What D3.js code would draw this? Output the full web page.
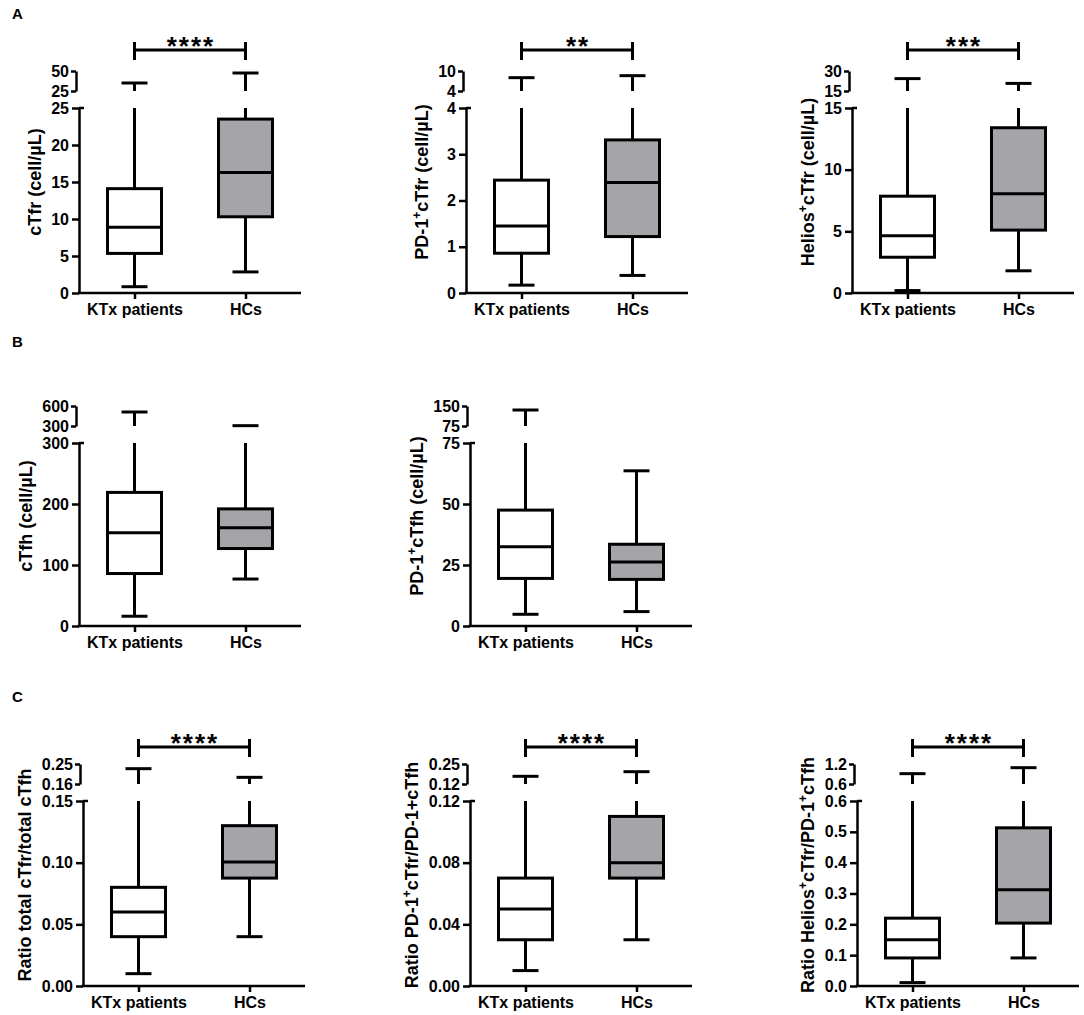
<!DOCTYPE html>
<html>
<head>
<meta charset="utf-8">
<script src="https://cdn.jsdelivr.net/npm/d3@7"></script>
<style>
  body { margin: 0; background: #fff; }
  svg { font-family: "Liberation Sans", Arial, sans-serif; font-weight: bold; }
  .axis path, .axis line { stroke: #000; stroke-width: 2.5; }
  .axis text { font-size: 16px; font-weight: bold; fill: #000; font-family: "Liberation Sans", Arial, sans-serif; }
  .y-title { font-size: 18px; font-weight: bold; }
</style>
</head>
<body>
<div id="chart"></div>
<script>
const groups = ['KTx patients', 'HCs'];

// box stats per group: [min, q1, median, q3, max]
const cTfrKTx = [0.85, 5.35, 8.9, 14.1, 35];
const cTfrHC = [2.85, 10.3, 16.3, 23.5, 47.5];
const pdCTfrKTx = [0.17, 0.86, 1.45, 2.44, 8.0];
const pdCTfrHC = [0.38, 1.22, 2.39, 3.31, 8.6];
const heliosCTfrKTx = [0.2, 2.9, 4.65, 7.85, 24.3];
const heliosCTfrHC = [1.8, 5.1, 8.05, 13.4, 20.7];
const cTfhKTx = [16, 86, 153, 219, 510];
const cTfhHC = [77, 127, 161, 192, 305];
const pdCTfhKTx = [4.8, 19.5, 32.5, 47.5, 135];
const pdCTfhHC = [5.9, 19.1, 26.2, 33.5, 63.6];
const ratioTotalKTx = [0.01, 0.04, 0.06, 0.08, 0.229];
const ratioTotalHC = [0.04, 0.0875, 0.1005, 0.13, 0.19];
const ratioPdKTx = [0.01, 0.03, 0.05, 0.07, 0.17];
const ratioPdHC = [0.03, 0.07, 0.08, 0.11, 0.2];
const ratioHeliosKTx = [0.011, 0.091, 0.15, 0.22, 0.91];
const ratioHeliosHC = [0.091, 0.204, 0.312, 0.513, 1.09];

// tick labels: lower segment and upper (broken) segment of each y axis
const cTfrLowTicks = [0, 5, 10, 15, 20, 25];
const cTfrHighTicks = [25, 50];
const pdCTfrLowTicks = [0, 1, 2, 3, 4];
const pdCTfrHighTicks = [4, 10];
const heliosCTfrLowTicks = [0, 5, 10, 15];
const heliosCTfrHighTicks = [15, 30];
const cTfhLowTicks = [0, 100, 200, 300];
const cTfhHighTicks = [300, 600];
const pdCTfhLowTicks = [0, 25, 50, 75];
const pdCTfhHighTicks = [75, 150];
const ratioTotalLowTicks = [0, 0.05, 0.10, 0.15];
const ratioTotalHighTicks = [0.16, 0.25];
const ratioPdLowTicks = [0, 0.04, 0.08, 0.12];
const ratioPdHighTicks = [0.12, 0.25];
const ratioHeliosLowTicks = [0, 0.1, 0.2, 0.3, 0.4, 0.5, 0.6];
const ratioHeliosHighTicks = [0.6, 1.2];

// y titles ("^+" marks a superscript plus) and significance stars
const yTitles = [
  'cTfr (cell/µL)', 'PD-1^+cTfr (cell/µL)', 'Helios^+cTfr (cell/µL)',
  'cTfh (cell/µL)', 'PD-1^+cTfh (cell/µL)',
  'Ratio total cTfr/total cTfh', 'Ratio PD-1^+cTfr/PD-1+cTfh', 'Ratio Helios^+cTfr/PD-1^+cTfh'
];
const sigMarks = ['****', '**', '***', '', '', '****', '****', '****'];

const width = 1084, height = 1015;
const boxW = 54, capW = 26, axisLen = 222;
const grayFill = '#a5a4a9';

const panels = [
  { ax: 79,  top: 71,  zero: 293, stats: [cTfrKTx, cTfrHC], low: cTfrLowTicks, high: cTfrHighTicks, fmt: 'd', sigY: 50 },
  { ax: 466, top: 71,  zero: 293, stats: [pdCTfrKTx, pdCTfrHC], low: pdCTfrLowTicks, high: pdCTfrHighTicks, fmt: 'd', sigY: 50 },
  { ax: 852, top: 71,  zero: 293, stats: [heliosCTfrKTx, heliosCTfrHC], low: heliosCTfrLowTicks, high: heliosCTfrHighTicks, fmt: 'd', sigY: 50 },
  { ax: 79,  top: 406, zero: 626, stats: [cTfhKTx, cTfhHC], low: cTfhLowTicks, high: cTfhHighTicks, fmt: 'd', sigY: 0 },
  { ax: 470, top: 406, zero: 626, stats: [pdCTfhKTx, pdCTfhHC], low: pdCTfhLowTicks, high: pdCTfhHighTicks, fmt: 'd', sigY: 0 },
  { ax: 83,  top: 764, zero: 986, stats: [ratioTotalKTx, ratioTotalHC], low: ratioTotalLowTicks, high: ratioTotalHighTicks, fmt: '.2f', sigY: 747 },
  { ax: 470, top: 764, zero: 986, stats: [ratioPdKTx, ratioPdHC], low: ratioPdLowTicks, high: ratioPdHighTicks, fmt: '.2f', sigY: 747 },
  { ax: 857, top: 764, zero: 986, stats: [ratioHeliosKTx, ratioHeliosHC], low: ratioHeliosLowTicks, high: ratioHeliosHighTicks, fmt: '.1f', sigY: 747 }
];

const svg = d3.select('#chart').append('svg')
  .attr('width', width)
  .attr('height', height);

// panel letters
const letters = [['A', 19], ['B', 347], ['C', 702]];
svg.selectAll('.letter')
  .data(letters)
  .enter().append('text')
  .attr('class', 'letter')
  .attr('x', 12)
  .attr('y', d => d[1])
  .style('font-size', '15px')
  .text(d => d[0]);

panels.forEach((p, i) => {
  let g = svg.append('g');
  let lowMax = p.low[p.low.length - 1];

  let x = d3.scalePoint()
    .domain(groups)
    .range([p.ax, p.ax + axisLen])
    .padding(0.5);

  let yLo = d3.scaleLinear()
    .domain([p.low[0], lowMax])
    .range([p.zero, p.top + 37]);

  let yHi = d3.scaleLinear()
    .domain(p.high)
    .range([p.top + 20, p.top]);

  // lower y axis
  let yAxisG = g.append('g')
    .attr('class', 'axis')
    .attr('transform', `translate(${p.ax},0)`)
    .call(d3.axisLeft(yLo).tickValues(p.low).tickFormat(d3.format(p.fmt)).tickSize(7).tickPadding(3).tickSizeOuter(0));

  // small break mark at the top of the lower segment
  g.append('line')
    .attr('x1', p.ax).attr('x2', p.ax + 5)
    .attr('y1', yLo(lowMax)).attr('y2', yLo(lowMax))
    .attr('stroke', '#000').attr('stroke-width', 2.5);

  // upper y axis segment (bracket)
  let yHiG = g.append('g')
    .attr('class', 'axis')
    .attr('transform', `translate(${p.ax - 3},0)`)
    .call(d3.axisLeft(yHi).tickValues(p.high).tickFormat(d3.format(p.fmt)).tickSize(5).tickPadding(2).tickSizeOuter(0));

  // x axis
  g.append('g')
    .attr('class', 'axis')
    .attr('transform', `translate(0,${p.zero})`)
    .call(d3.axisBottom(x).tickSize(6).tickPadding(4.5).tickSizeOuter(0))
    .select('.domain')
    .attr('d', `M${p.ax - 1.25},0H${p.ax + axisLen}`);

  // y title, baseline ~10px left of the tick labels
  let left = Math.min(yAxisG.node().getBBox().x, yHiG.node().getBBox().x - 3) + p.ax;
  let title = g.append('text')
    .attr('class', 'y-title')
    .attr('transform', `translate(${left - 10.5},${(p.top + p.zero) / 2}) rotate(-90)`)
    .attr('text-anchor', 'middle');
  yTitles[i].split('^+').forEach((part, k) => {
    if (k > 0) {
      title.append('tspan')
        .attr('baseline-shift', 'super')
        .style('font-size', '12px')
        .text('+');
    }
    title.append('tspan').text(part);
  });

  // boxes and whiskers
  p.stats.forEach((s, j) => {
    let cx = x(groups[j]);
    let [mn, q1, med, q3, mx] = s;
    let bg = g.append('g')
      .attr('stroke', '#000')
      .attr('stroke-width', 3);

    bg.append('line')
      .attr('x1', cx).attr('x2', cx)
      .attr('y1', yLo(mn)).attr('y2', yLo(Math.min(mx, lowMax)));
    bg.append('line')
      .attr('x1', cx - capW / 2).attr('x2', cx + capW / 2)
      .attr('y1', yLo(mn)).attr('y2', yLo(mn));

    if (mx > lowMax) {
      bg.append('line')
        .attr('x1', cx).attr('x2', cx)
        .attr('y1', yHi(p.high[0])).attr('y2', yHi(mx));
      bg.append('line')
        .attr('x1', cx - capW / 2).attr('x2', cx + capW / 2)
        .attr('y1', yHi(mx)).attr('y2', yHi(mx));
    } else {
      bg.append('line')
        .attr('x1', cx - capW / 2).attr('x2', cx + capW / 2)
        .attr('y1', yLo(mx)).attr('y2', yLo(mx));
    }

    bg.append('rect')
      .attr('x', cx - boxW / 2)
      .attr('y', yLo(q3))
      .attr('width', boxW)
      .attr('height', yLo(q1) - yLo(q3))
      .attr('fill', j === 0 ? '#fff' : grayFill);

    bg.append('line')
      .attr('x1', cx - boxW / 2).attr('x2', cx + boxW / 2)
      .attr('y1', yLo(med)).attr('y2', yLo(med));
  });

  // significance bracket
  if (sigMarks[i]) {
    let x1 = x(groups[0]), x2 = x(groups[1]);
    let sg = g.append('g').attr('stroke', '#000').attr('stroke-width', 3);
    sg.append('line').attr('x1', x1).attr('x2', x2).attr('y1', p.sigY).attr('y2', p.sigY);
    sg.append('line').attr('x1', x1).attr('x2', x1).attr('y1', p.sigY - 8).attr('y2', p.sigY + 10);
    sg.append('line').attr('x1', x2).attr('x2', x2).attr('y1', p.sigY - 8).attr('y2', p.sigY + 10);
    g.append('text')
      .attr('x', (x1 + x2) / 2 + 1)
      .attr('y', p.sigY + 5)
      .attr('text-anchor', 'middle')
      .style('font-size', '26px')
      .style('letter-spacing', '2px')
      .text(sigMarks[i]);
  }
});
</script>
</body>
</html>
